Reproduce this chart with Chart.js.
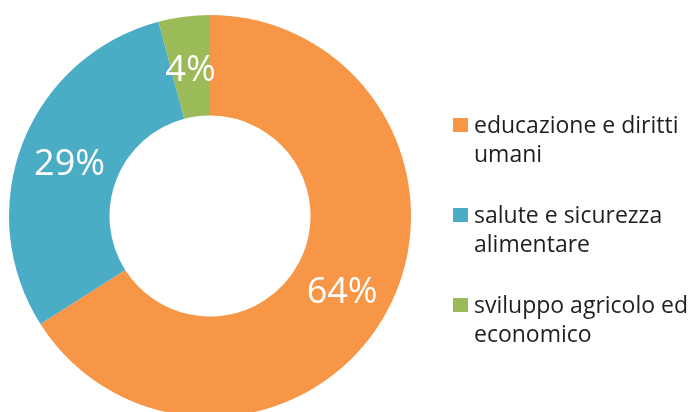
<!DOCTYPE html>
<html>
<head>
<meta charset="utf-8">
<script src="https://cdn.jsdelivr.net/npm/chart.js@4"></script>
<style>
  html, body { margin: 0; padding: 0; background: #fff; overflow: hidden; }
  #wrap { width: 693px; height: 420px; }
</style>
</head>
<body>
<div id="wrap"><canvas id="chart"></canvas></div>
<script>
// categories (legend text split per line)
const categories = [
  ["educazione e diritti", "umani"],
  ["salute e sicurezza", "alimentare"],
  ["sviluppo agricolo ed", "economico"]
];
const values = [64, 29, 4];
const colors = ["#F79646", "#4BACC6", "#9BBB59"];

// white % labels inside each slice
const sliceLabels = {
  id: "sliceLabels",
  afterDatasetsDraw(chart) {
    const ctx = chart.ctx;
    const meta = chart.getDatasetMeta(0);
    ctx.save();
    ctx.fillStyle = "#fff";
    ctx.font = "36px 'Open Sans'";
    ctx.textAlign = "center";
    ctx.textBaseline = "middle";
    meta.data.forEach(function (arc, i) {
      const p = arc.getCenterPoint();
      ctx.fillText(values[i] + "%", p.x, p.y + 4);
    });
    ctx.restore();
  }
};

// legend on the right, wrapped text
const sideLegend = {
  id: "sideLegend",
  afterDraw(chart) {
    const ctx = chart.ctx;
    ctx.save();
    ctx.font = "23px 'Open Sans'";
    ctx.textBaseline = "middle";
    categories.forEach(function (lines, i) {
      const y = 125 + i * 90;
      ctx.fillStyle = colors[i];
      ctx.fillRect(453, y - 7, 15, 14);
      ctx.fillStyle = "#1f1f1f";
      lines.forEach(function (t, j) {
        ctx.fillText(t, 474, y + 1 + j * 29);
      });
    });
    ctx.restore();
  }
};

const chart = new Chart(document.getElementById("chart"), {
  type: "doughnut",
  data: {
    labels: categories.map(c => c.join(" ")),
    datasets: [{
      data: values,
      backgroundColor: colors,
      borderWidth: 0
    }]
  },
  options: {
    responsive: true,
    maintainAspectRatio: false,
    animation: false,
    cutout: "50%",
    layout: { padding: { left: 9, top: 15, right: 282, bottom: 3 } },
    plugins: {
      legend: { display: false },
      tooltip: { enabled: false }
    }
  },
  plugins: [sliceLabels, sideLegend]
});
</script>
</body>
</html>
